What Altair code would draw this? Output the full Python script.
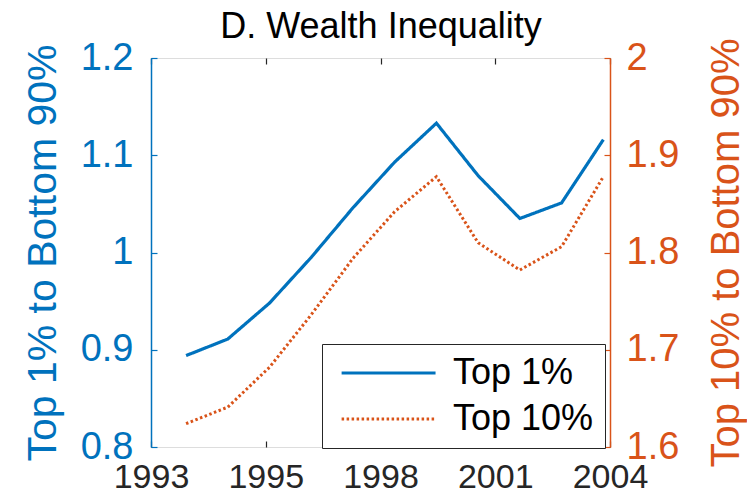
import altair as alt
import pandas as pd

years = [1994, 1995, 1996, 1997, 1998, 1999, 2000, 2001, 2002, 2003, 2004]
top1 = [0.894, 0.911, 0.948, 0.995, 1.046, 1.093, 1.133, 1.079, 1.035, 1.051, 1.116]
top10 = [1.624, 1.641, 1.682, 1.736, 1.794, 1.842, 1.878, 1.810, 1.782, 1.806, 1.878]
series_names = ["Top 1%", "Top 10%"]
x_ticks = [1993.16, 1995.91, 1998.66, 2001.41, 2004.16]
left_ticks = [0.8, 0.9, 1.0, 1.1, 1.2]
right_ticks = [1.6, 1.7, 1.8, 1.9, 2.0]

BLUE = "#0072BD"
ORANGE = "#D95319"
DARK = "#262626"
FONT = "Liberation Sans"

df1 = pd.DataFrame({"year": years, "value": top1, "series": series_names[0]})
df10 = pd.DataFrame({"year": years, "value": top10, "series": series_names[1]})

xscale = alt.Scale(domain=[1993.16, 2004.16], nice=False, zero=False)
lscale = alt.Scale(domain=[0.8, 1.2], nice=False, zero=False)
rscale = alt.Scale(domain=[1.6, 2.0], nice=False, zero=False)

legend = alt.Legend(
    title=None, orient="none", legendX=171, legendY=286,
    symbolType="M-1,0L9,0", symbolSize=353, symbolStrokeWidth=3,
    labelFontSize=36, labelFont=FONT, labelColor="black", labelOffset=84,
    fillColor="white", strokeColor=DARK, padding=11, rowPadding=10,
    labelLimit=400,
)
color = alt.Color("series:N", scale=alt.Scale(domain=series_names, range=[BLUE, ORANGE]), legend=legend)
dash = alt.StrokeDash("series:N", scale=alt.Scale(domain=series_names, range=[[1, 0], [2.5, 2.5]]), legend=legend)

tick_axis = dict(labels=False, domain=False, ticks=True, tickSize=6, offset=-6, grid=False, tickWidth=1.2)

l1 = alt.Chart(df1).mark_line(strokeWidth=3.2).encode(
    x=alt.X("year:Q", scale=xscale, axis=alt.Axis(
        orient="bottom", values=x_ticks, labelExpr="floor(datum.value)", ticks=False, tickSize=0,
        domain=False, grid=False, title=None, labelFontSize=34, labelFont=FONT, labelColor=DARK,
        labelPadding=13, labelFlush=False, labelOverlap=False)),
    y=alt.Y("value:Q", scale=lscale, axis=alt.Axis(
        orient="left", values=left_ticks, format="~g", ticks=False, tickSize=0, grid=False,
        domainColor=BLUE, domainWidth=1.5, labelColor=BLUE, labelFontSize=38, labelFont=FONT,
        labelPadding=18, title="Top 1% to Bottom 90%", titleColor=BLUE, titleFontSize=41,
        titleFont=FONT, titleFontWeight="normal", titlePadding=16, labelOverlap=False)),
    color=color, strokeDash=dash,
)

l2 = alt.Chart(df10).mark_line(strokeWidth=3).encode(
    x=alt.X("year:Q", scale=xscale, axis=alt.Axis(orient="bottom", values=x_ticks, tickColor=DARK,
                                                  title=None, **tick_axis)),
    y=alt.Y("value:Q", scale=rscale, axis=alt.Axis(
        orient="right", values=right_ticks, format="~g", ticks=False, tickSize=0, grid=False,
        domainColor=ORANGE, domainWidth=1.5, labelColor=ORANGE, labelFontSize=38, labelFont=FONT,
        labelPadding=16, title="Top 10% to Bottom 90%", titleColor=ORANGE, titleFontSize=40,
        titleFont=FONT, titleFontWeight="normal", titlePadding=68, titleAngle=270,
        labelOverlap=False)),
    color=color, strokeDash=dash,
)

l3 = alt.Chart(df1).mark_line(opacity=0).encode(
    x=alt.X("year:Q", scale=xscale, axis=alt.Axis(
        orient="top", values=x_ticks, tickColor=DARK, title="D. Wealth Inequality",
        titleFontSize=36, titleFont=FONT, titleFontWeight="normal", titleColor="black",
        titleBaseline="top", titlePadding=48, **tick_axis)),
    y=alt.Y("value:Q", scale=lscale, axis=alt.Axis(orient="left", values=left_ticks, tickColor=BLUE,
                                                   title=None, **tick_axis)),
)

l4 = alt.Chart(df10).mark_line(opacity=0).encode(
    x=alt.X("year:Q", scale=xscale, axis=None),
    y=alt.Y("value:Q", scale=rscale, axis=alt.Axis(orient="right", values=right_ticks, tickColor=ORANGE,
                                                   title=None, **tick_axis)),
)

chart = alt.layer(l1, l2, l3, l4).resolve_scale(
    x="independent", y="independent", color="shared", strokeDash="shared"
).resolve_axis(x="independent", y="independent").properties(
    width=459, height=389,
    autosize=alt.AutoSizeParams(type="none"),
    padding={"left": 143, "top": 50, "right": 137, "bottom": 49},
).configure_view(stroke=DARK, strokeWidth=1.2).configure(background="white")

chart.save("out.html", embed_options={"renderer": "svg", "actions": False})
